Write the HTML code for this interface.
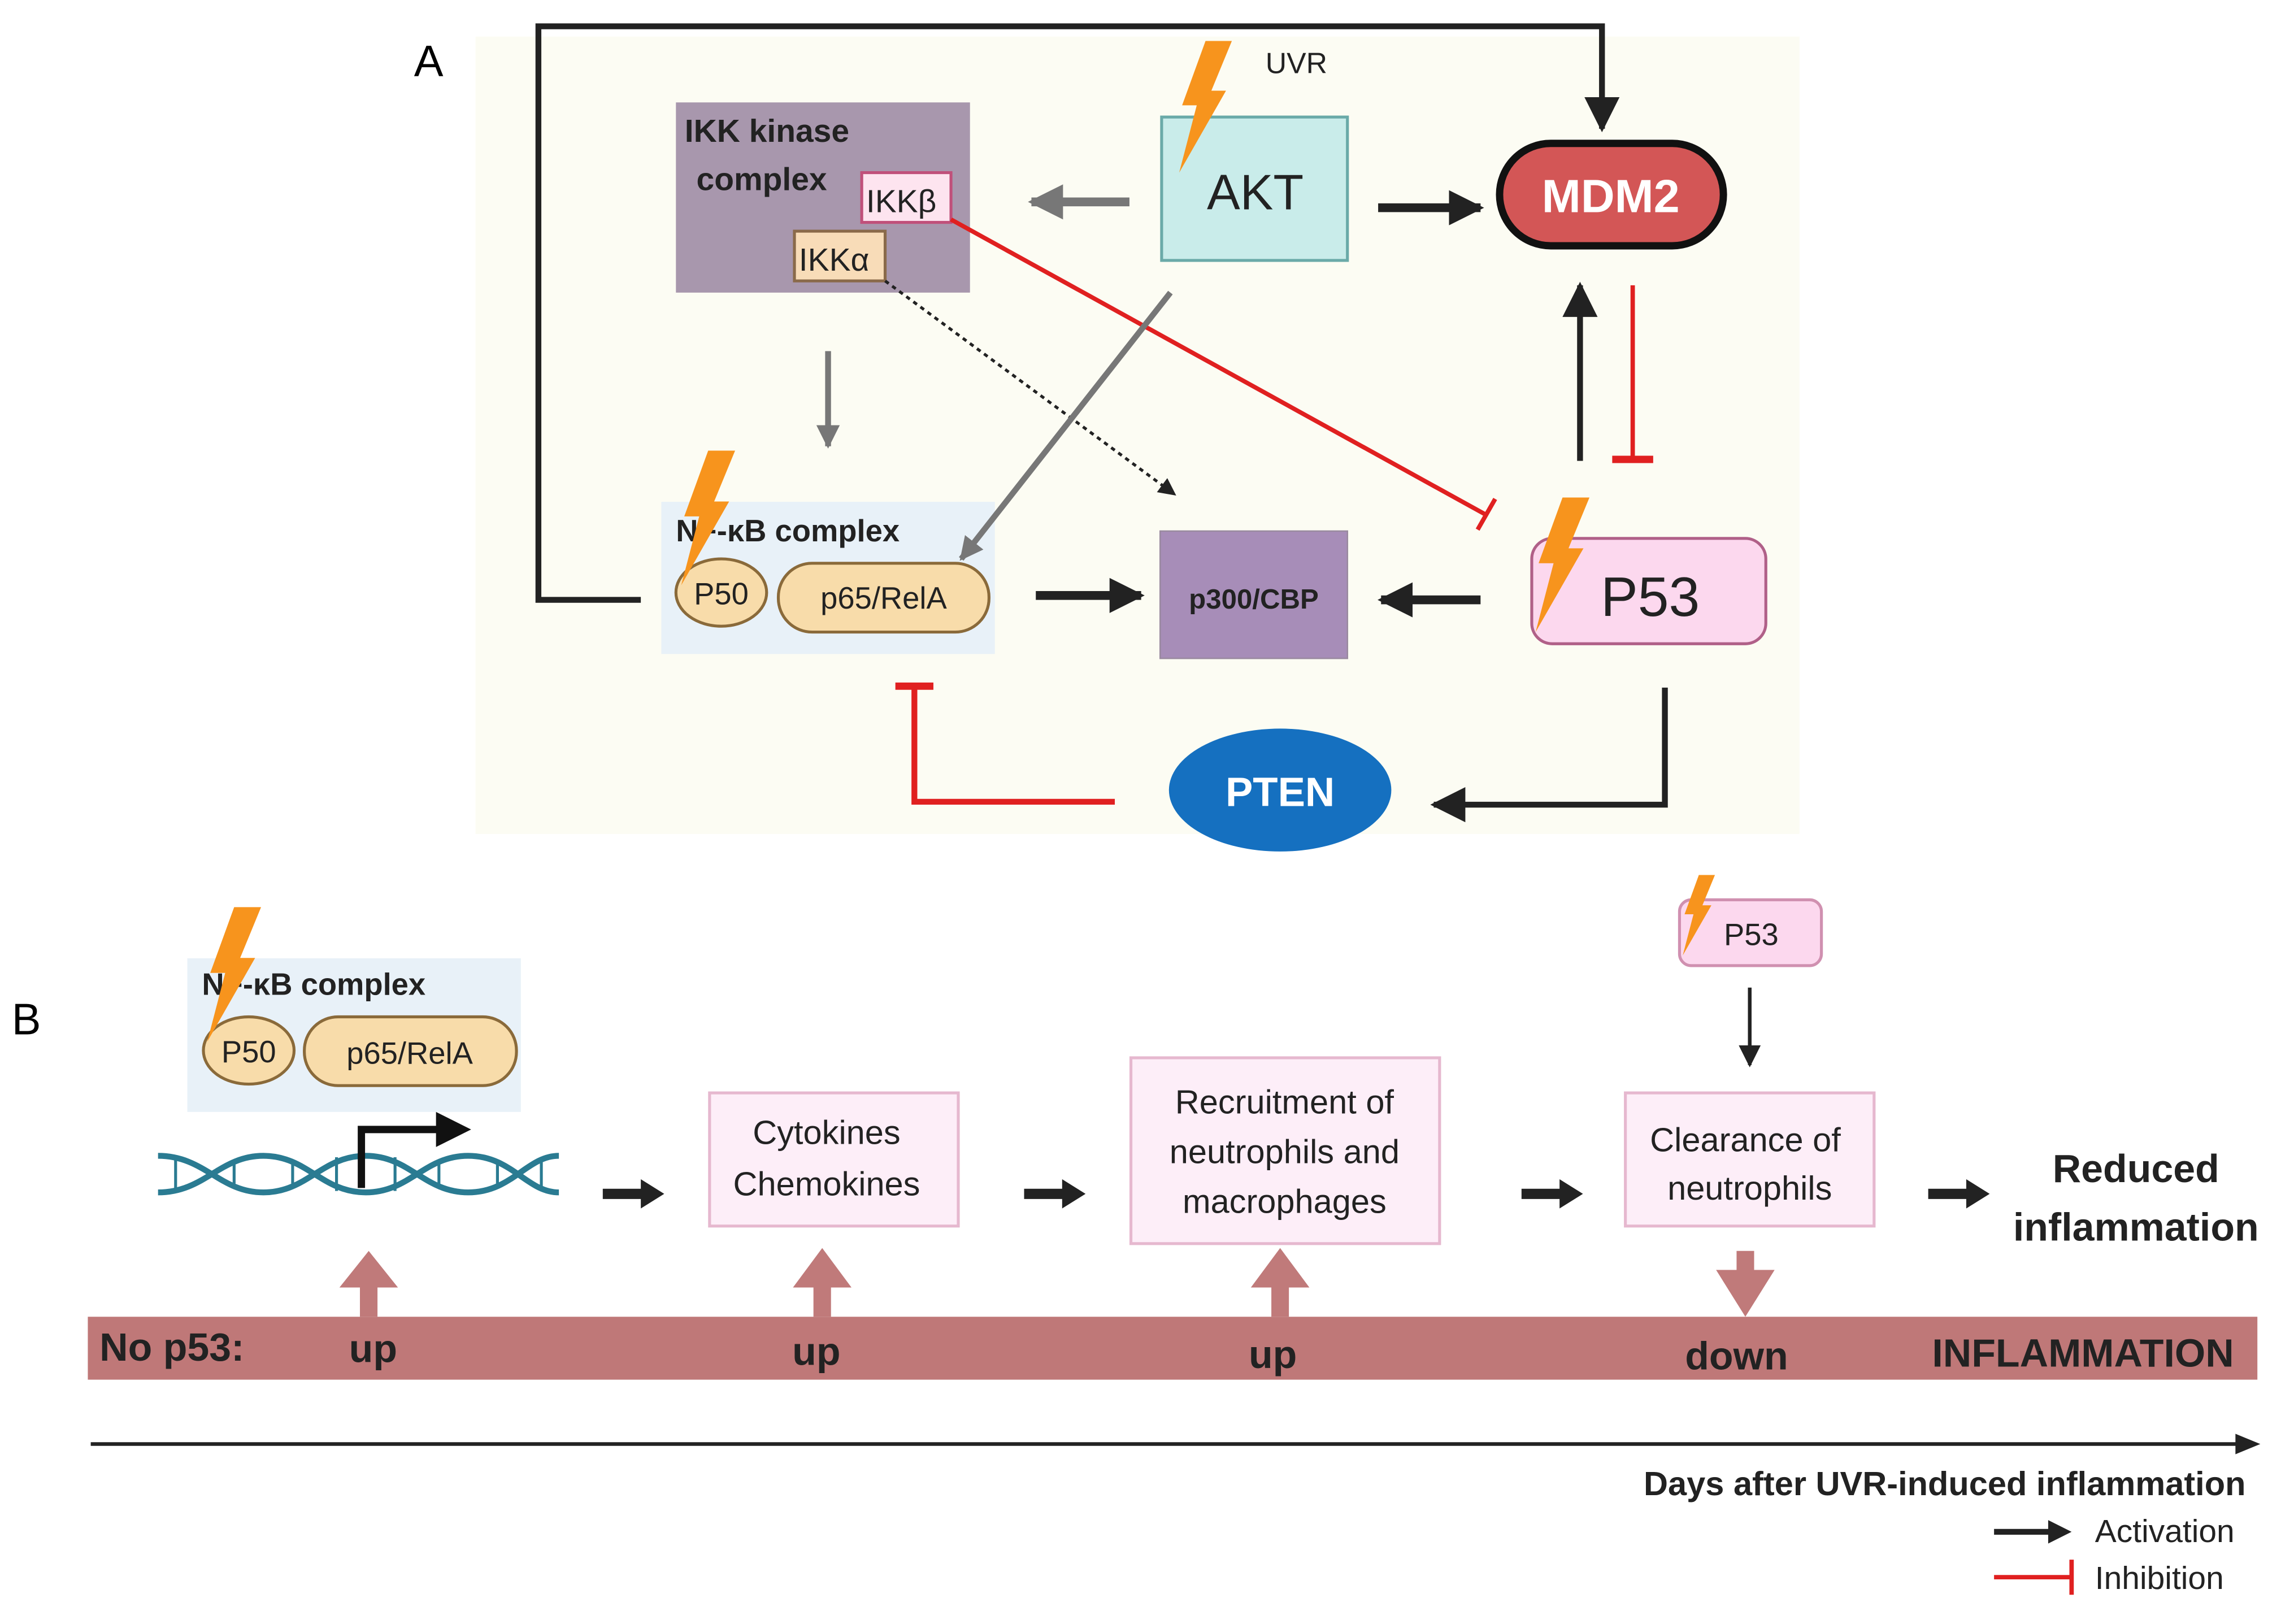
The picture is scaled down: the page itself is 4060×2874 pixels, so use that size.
<!DOCTYPE html>
<html><head><meta charset="utf-8"><style>
html,body{margin:0;padding:0;background:#fff;}
svg{display:block;}
text{font-family:"Liberation Sans",sans-serif;}
</style></head><body>
<svg width="4060" height="2874" viewBox="0 0 1568 1110" xmlns="http://www.w3.org/2000/svg">
<defs>
<marker id="ab" viewBox="0 0 10 10" refX="9" refY="5" markerWidth="4" markerHeight="4" orient="auto-start-reverse"><path d="M0,0 L10,5 L0,10 z" fill="#222"/></marker>
<marker id="ag" viewBox="0 0 10 10" refX="9" refY="5" markerWidth="4" markerHeight="4" orient="auto"><path d="M0,0 L10,5 L0,10 z" fill="#777"/></marker>
<marker id="as" viewBox="0 0 10 10" refX="9" refY="5" markerWidth="6" markerHeight="6" orient="auto"><path d="M0,0 L10,5 L0,10 z" fill="#222"/></marker>
<symbol id="bolt" viewBox="0 0 40 90"><path d="M22,0 L40,0 L26,34 L36,34 L4,90 L16,44 L6,44 z" fill="#f7941d"/></symbol>
</defs>
<rect x="325" y="25" width="905" height="545" fill="#fcfcf3"/>
<text x="283" y="52" font-size="30">A</text>
<polyline points="438,410 368,410 368,18 1095,18 1095,88" fill="none" stroke="#222" stroke-width="4" marker-end="url(#as)"/>
<rect x="462" y="70" width="201" height="130" fill="#a897ad"/>
<text x="468" y="97" font-size="22" font-weight="bold" fill="#222">IKK kinase</text>
<text x="476" y="130" font-size="22" font-weight="bold" fill="#222">complex</text>
<rect x="589" y="118" width="61" height="34" fill="#fde4ef" stroke="#c0507a" stroke-width="2"/>
<text x="592" y="145" font-size="22" fill="#222">IKKβ</text>
<rect x="543" y="158" width="62" height="34" fill="#f8dcb8" stroke="#8a6a4a" stroke-width="2"/>
<text x="546" y="185" font-size="22" fill="#222">IKKα</text>
<rect x="794" y="80" width="127" height="98" fill="#c9ecea" stroke="#6aaaa8" stroke-width="2"/>
<text x="858" y="143" font-size="34" text-anchor="middle" fill="#222">AKT</text>
<use href="#bolt" x="798" y="28" width="48" height="90"/>
<text x="865" y="50" font-size="20" fill="#222">UVR</text>
<line x1="772" y1="138" x2="705" y2="138" stroke="#777" stroke-width="6" marker-end="url(#ag)"/>
<line x1="942" y1="142" x2="1012" y2="142" stroke="#222" stroke-width="6" marker-end="url(#ab)"/>
<rect x="1025" y="98" width="153" height="70" rx="35" fill="#d35656" stroke="#111" stroke-width="5"/>
<text x="1101" y="145" font-size="32" font-weight="bold" text-anchor="middle" fill="#fff">MDM2</text>
<line x1="1080" y1="315" x2="1080" y2="195" stroke="#222" stroke-width="4" marker-end="url(#as)"/>
<line x1="1116" y1="195" x2="1116" y2="313" stroke="#e02020" stroke-width="3"/>
<line x1="1102" y1="314" x2="1130" y2="314" stroke="#e02020" stroke-width="5"/>
<rect x="1047" y="368" width="160" height="72" rx="14" fill="#fcd8ee" stroke="#b06088" stroke-width="2"/>
<text x="1128" y="421" font-size="38" text-anchor="middle" fill="#222">P53</text>
<use href="#bolt" x="1042" y="340" width="48" height="92"/>
<line x1="650" y1="150" x2="1016" y2="352" stroke="#e02020" stroke-width="3"/>
<line x1="1010" y1="362" x2="1022" y2="341" stroke="#e02020" stroke-width="3"/>
<line x1="605" y1="192" x2="803" y2="338" stroke="#222" stroke-width="2" stroke-dasharray="3,3" marker-end="url(#as)"/>
<line x1="566" y1="240" x2="566" y2="305" stroke="#777" stroke-width="4" marker-end="url(#ag)"/>
<rect x="452" y="343" width="228" height="104" fill="#e8f1f8"/>
<text x="462" y="370" font-size="21" font-weight="bold" fill="#222">NF-κB complex</text>
<ellipse cx="493" cy="405" rx="31" ry="23" fill="#f8dcaa" stroke="#8a6a3a" stroke-width="2"/>
<text x="493" y="413" font-size="21" text-anchor="middle" fill="#222">P50</text>
<rect x="532" y="385" width="144" height="47" rx="23" fill="#f8dcaa" stroke="#8a6a3a" stroke-width="2"/>
<text x="604" y="416" font-size="21" text-anchor="middle" fill="#222">p65/RelA</text>
<use href="#bolt" x="458" y="308" width="48" height="92"/>
<line x1="800" y1="200" x2="657" y2="382" stroke="#777" stroke-width="4" marker-end="url(#ag)"/>
<line x1="708" y1="407" x2="780" y2="407" stroke="#222" stroke-width="6" marker-end="url(#ab)"/>
<rect x="793" y="363" width="128" height="87" fill="#a78db8" stroke="#9a8aa0" stroke-width="1"/>
<text x="857" y="416" font-size="19" font-weight="bold" text-anchor="middle" fill="#222">p300/CBP</text>
<line x1="1012" y1="410" x2="944" y2="410" stroke="#222" stroke-width="6" marker-end="url(#ab)"/>
<polyline points="1138,470 1138,550 980,550" fill="none" stroke="#222" stroke-width="4" marker-end="url(#as)"/>
<ellipse cx="875" cy="540" rx="76" ry="42" fill="#1570c0"/>
<text x="875" y="551" font-size="28" font-weight="bold" text-anchor="middle" fill="#fff">PTEN</text>
<polyline points="762,548 625,548 625,470" fill="none" stroke="#e02020" stroke-width="4"/>
<line x1="612" y1="469" x2="638" y2="469" stroke="#e02020" stroke-width="5"/>

<text x="8" y="707" font-size="30">B</text>
<rect x="128" y="655" width="228" height="105" fill="#e8f1f8"/>
<text x="138" y="680" font-size="21" font-weight="bold" fill="#222">NF-κB complex</text>
<ellipse cx="170" cy="718" rx="31" ry="23" fill="#f8dcaa" stroke="#8a6a3a" stroke-width="2"/>
<text x="170" y="726" font-size="21" text-anchor="middle" fill="#222">P50</text>
<rect x="208" y="695" width="145" height="47" rx="23" fill="#f8dcaa" stroke="#8a6a3a" stroke-width="2"/>
<text x="280" y="727" font-size="21" text-anchor="middle" fill="#222">p65/RelA</text>
<use href="#bolt" x="134" y="620" width="48" height="92"/>
<g stroke="#2a7b92" stroke-width="4" fill="none">
<path d="M108,790 C140,790 150,815 180,815 C210,815 220,790 250,790 C280,790 290,815 320,815 C350,815 360,790 382,790"/>
<path d="M108,815 C140,815 150,790 180,790 C210,790 220,815 250,815 C280,815 290,790 320,790 C350,790 360,815 382,815"/>
</g>
<g stroke="#2a7b92" stroke-width="2">
<line x1="120" y1="791" x2="120" y2="814"/><line x1="160" y1="796" x2="160" y2="809"/><line x1="200" y1="796" x2="200" y2="809"/><line x1="230" y1="791" x2="230" y2="814"/><line x1="270" y1="791" x2="270" y2="814"/><line x1="300" y1="796" x2="300" y2="809"/><line x1="340" y1="796" x2="340" y2="809"/><line x1="370" y1="791" x2="370" y2="814"/>
</g>
<polyline points="247,812 247,772 300,772" fill="none" stroke="#111" stroke-width="5"/>
<path d="M298,760 L322,772 L298,784 z" fill="#111"/>
<g stroke="#222" stroke-width="7">
<line x1="412" y1="816" x2="440" y2="816"/><line x1="700" y1="816" x2="728" y2="816"/><line x1="1040" y1="816" x2="1068" y2="816"/><line x1="1318" y1="816" x2="1346" y2="816"/>
</g>
<g fill="#222">
<path d="M438,806 L454,816 L438,826 z"/><path d="M726,806 L742,816 L726,826 z"/><path d="M1066,806 L1082,816 L1066,826 z"/><path d="M1344,806 L1360,816 L1344,826 z"/>
</g>
<rect x="485" y="747" width="170" height="91" fill="#fdeef8" stroke="#e6b8cf" stroke-width="2"/>
<text x="565" y="782" font-size="23" text-anchor="middle" fill="#222">Cytokines</text>
<text x="565" y="817" font-size="23" text-anchor="middle" fill="#222">Chemokines</text>
<rect x="773" y="723" width="211" height="127" fill="#fdeef8" stroke="#e6b8cf" stroke-width="2"/>
<text x="878" y="761" font-size="23" text-anchor="middle" fill="#222">Recruitment of</text>
<text x="878" y="795" font-size="23" text-anchor="middle" fill="#222">neutrophils and</text>
<text x="878" y="829" font-size="23" text-anchor="middle" fill="#222">macrophages</text>
<rect x="1111" y="747" width="170" height="91" fill="#fdeef8" stroke="#e6b8cf" stroke-width="2"/>
<text x="1193" y="787" font-size="23" text-anchor="middle" fill="#222">Clearance of</text>
<text x="1196" y="820" font-size="23" text-anchor="middle" fill="#222">neutrophils</text>
<text x="1460" y="808" font-size="27" font-weight="bold" text-anchor="middle" fill="#222">Reduced</text>
<text x="1460" y="848" font-size="27" font-weight="bold" text-anchor="middle" fill="#222">inflammation</text>
<rect x="1148" y="615" width="97" height="45" rx="8" fill="#fcd8ee" stroke="#d090b0" stroke-width="2"/>
<text x="1197" y="646" font-size="21" text-anchor="middle" fill="#222">P53</text>
<use href="#bolt" x="1147" y="598" width="26" height="55"/>
<line x1="1196" y1="675" x2="1196" y2="728" stroke="#222" stroke-width="2.5" marker-end="url(#as)"/>
<g fill="#c07a7a">
<path d="M246,900 L246,880 L232,880 L252,855 L272,880 L258,880 L258,900 z"/>
<path d="M556,900 L556,880 L542,880 L562,853 L582,880 L568,880 L568,900 z"/>
<path d="M869,900 L869,880 L855,880 L875,853 L895,880 L881,880 L881,900 z"/>
<path d="M1187,855 L1199,855 L1199,868 L1213,868 L1193,900 L1173,868 L1187,868 z"/>
</g>
<rect x="60" y="900" width="1483" height="43" fill="#bf7878"/>
<g font-size="27" fill="#222" font-weight="bold">
<text x="68" y="930">No p53:</text>
<text x="255" y="931" text-anchor="middle">up</text>
<text x="558" y="933" text-anchor="middle">up</text>
<text x="870" y="935" text-anchor="middle">up</text>
<text x="1187" y="936" text-anchor="middle">down</text>
<text x="1527" y="934" text-anchor="end">INFLAMMATION</text>
</g>
<line x1="62" y1="987" x2="1540" y2="987" stroke="#222" stroke-width="2.5"/>
<path d="M1528,980 L1545,987 L1528,994 z" fill="#222"/>
<text x="1535" y="1022" font-size="23" font-weight="bold" text-anchor="end" fill="#222">Days after UVR-induced inflammation</text>
<line x1="1363" y1="1047" x2="1404" y2="1047" stroke="#222" stroke-width="4"/>
<path d="M1400,1039 L1416,1047 L1400,1055 z" fill="#222"/>
<text x="1432" y="1054" font-size="22" fill="#222">Activation</text>
<line x1="1363" y1="1078" x2="1416" y2="1078" stroke="#e02020" stroke-width="3"/>
<line x1="1416" y1="1066" x2="1416" y2="1090" stroke="#e02020" stroke-width="3"/>
<text x="1432" y="1086" font-size="22" fill="#222">Inhibition</text>
</svg>
</body></html>
